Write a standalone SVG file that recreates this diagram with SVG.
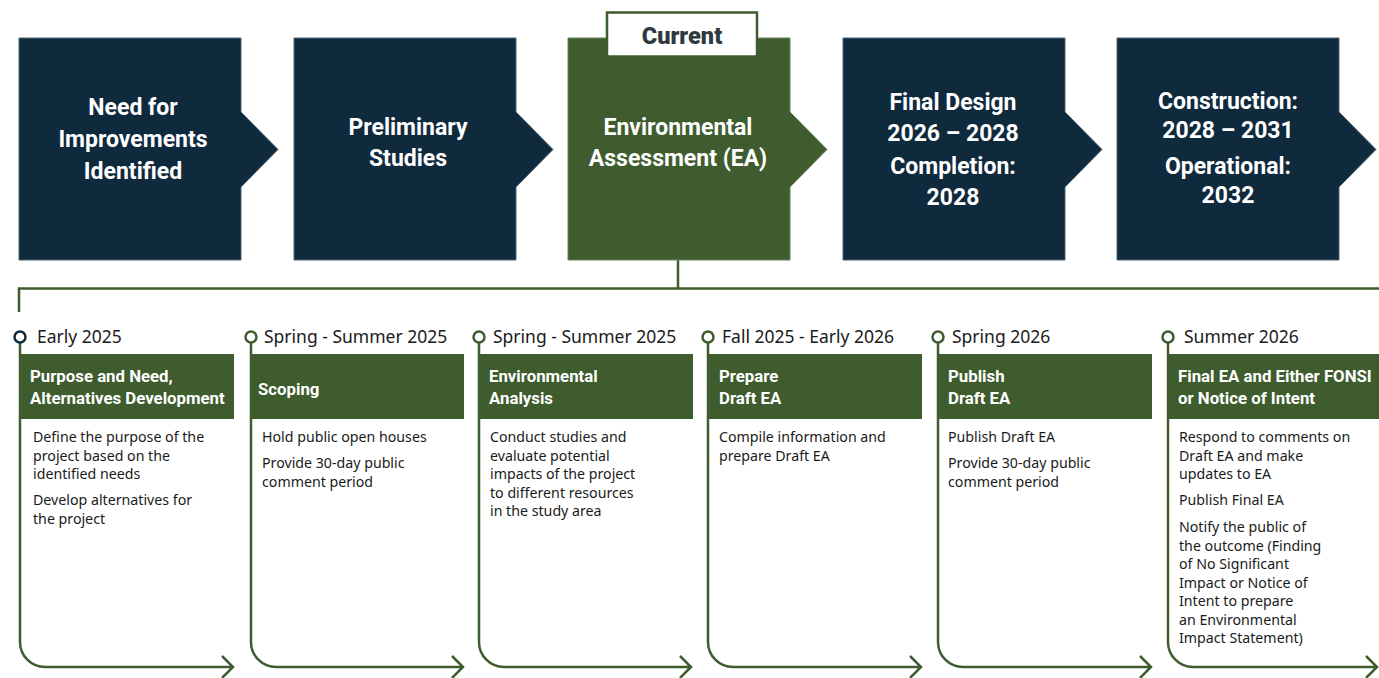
<svg xmlns="http://www.w3.org/2000/svg" width="1379" height="678" viewBox="0 0 1379 678">
<style>
.navy{fill:#0f293d;stroke:#4d6272;stroke-width:1}
.green{fill:#3e5c2d;stroke:#6b8560;stroke-width:1}
.bt{font-family:Roboto,"Liberation Sans",sans-serif;font-weight:700;font-size:23px;fill:#ffffff;text-anchor:middle}
.hd{font-family:Roboto,"Liberation Sans",sans-serif;font-weight:700;font-size:16.8px;fill:#ffffff}
.hbox{fill:#3e5c2d}
.dt{font-family:"Noto Sans","Liberation Sans",sans-serif;font-size:17.5px;fill:#1a1a1a}
.tx{font-family:"Noto Sans","Liberation Sans",sans-serif;font-size:14.2px;fill:#1a1a1a}
.ln{fill:none;stroke:#3e5c2d;stroke-width:2.5}
.dot{fill:#ffffff;stroke:#3e5c2d;stroke-width:2.5}
</style>
<rect width="1379" height="678" fill="#ffffff"/>

<g id="connectors">
  <path class="ln" d="M678,260 V288.5 M19,312 V288.5 H1379"/>
  <path class="ln" d="M20,342 V642 A25,25 0 0 0 45,667 H233 M222,656 L233,667 L222,678"/>
  <path class="ln" d="M251,342 V642 A25,25 0 0 0 276,667 H463 M452,656 L463,667 L452,678"/>
  <path class="ln" d="M479,342 V642 A25,25 0 0 0 504,667 H691 M680,656 L691,667 L680,678"/>
  <path class="ln" d="M708,342 V642 A25,25 0 0 0 733,667 H921 M910,656 L921,667 L910,678"/>
  <path class="ln" d="M938,342 V642 A25,25 0 0 0 963,667 H1151 M1140,656 L1151,667 L1140,678"/>
  <path class="ln" d="M1168,342 V642 A25,25 0 0 0 1193,667 H1377 M1366,656 L1377,667 L1366,678"/>
</g>

<g id="phase1">
  <path class="navy" d="M19,38 H241 V112 L278,149.5 L241,187 V260 H19 Z"/>
  <text class="bt" x="133" y="115">Need for</text>
  <text class="bt" x="133" y="147">Improvements</text>
  <text class="bt" x="133" y="179">Identified</text>
</g>
<g id="phase2">
  <path class="navy" d="M294,38 H516 V112 L553,149.5 L516,187 V260 H294 Z"/>
  <text class="bt" x="408" y="135">Preliminary</text>
  <text class="bt" x="408" y="166">Studies</text>
</g>
<g id="phase3">
  <path class="green" d="M568,38 H790 V112 L827,149.5 L790,187 V260 H568 Z"/>
  <text class="bt" x="678" y="135">Environmental</text>
  <text class="bt" x="678" y="166">Assessment (EA)</text>
</g>
<g id="current">
  <rect x="607" y="12.5" width="150" height="44" fill="#ffffff" stroke="#3e5c2d" stroke-width="2.5"/>
  <text x="682" y="44" font-family="Roboto,'Liberation Sans',sans-serif" font-weight="900" font-size="23.5" fill="#2e3a3f" text-anchor="middle">Current</text>
</g>
<g id="phase4">
  <path class="navy" d="M843,38 H1065 V112 L1102,149.5 L1065,187 V260 H843 Z"/>
  <text class="bt" x="953" y="110">Final Design</text>
  <text class="bt" x="953" y="141">2026 – 2028</text>
  <text class="bt" x="953" y="174">Completion:</text>
  <text class="bt" x="953" y="205">2028</text>
</g>
<g id="phase5">
  <path class="navy" d="M1117,38 H1339 V112 L1376,149.5 L1339,187 V260 H1117 Z"/>
  <text class="bt" x="1228" y="109">Construction:</text>
  <text class="bt" x="1228" y="138">2028 – 2031</text>
  <text class="bt" x="1228" y="174">Operational:</text>
  <text class="bt" x="1228" y="203">2032</text>
</g>

<g id="step1">
  <circle cx="20" cy="337" r="5.5" fill="#ffffff" stroke="#0f293d" stroke-width="2.5"/>
  <text class="dt" x="37" y="343">Early 2025</text>
  <rect class="hbox" x="21" y="354" width="213" height="65"/>
  <text class="hd" x="30" y="382">Purpose and Need,</text>
  <text class="hd" x="30" y="404">Alternatives Development</text>
  <text class="tx" x="33" y="442">Define the purpose of the</text>
  <text class="tx" x="33" y="460.5">project based on the</text>
  <text class="tx" x="33" y="479">identified needs</text>
  <text class="tx" x="33" y="505">Develop alternatives for</text>
  <text class="tx" x="33" y="524">the project</text>
</g>
<g id="step2">
  <circle class="dot" cx="251" cy="337" r="5.5"/>
  <text class="dt" x="264" y="343">Spring - Summer 2025</text>
  <rect class="hbox" x="252" y="354" width="212" height="65"/>
  <text class="hd" x="258" y="395">Scoping</text>
  <text class="tx" x="262" y="442">Hold public open houses</text>
  <text class="tx" x="262" y="468">Provide 30-day public</text>
  <text class="tx" x="262" y="486.5">comment period</text>
</g>
<g id="step3">
  <circle class="dot" cx="479" cy="337" r="5.5"/>
  <text class="dt" x="493" y="343">Spring - Summer 2025</text>
  <rect class="hbox" x="480" y="354" width="213" height="65"/>
  <text class="hd" x="489" y="382">Environmental</text>
  <text class="hd" x="489" y="404">Analysis</text>
  <text class="tx" x="490" y="442">Conduct studies and</text>
  <text class="tx" x="490" y="460.5">evaluate potential</text>
  <text class="tx" x="490" y="479">impacts of the project</text>
  <text class="tx" x="490" y="497.5">to different resources</text>
  <text class="tx" x="490" y="516">in the study area</text>
</g>
<g id="step4">
  <circle class="dot" cx="708" cy="337" r="5.5"/>
  <text class="dt" x="722" y="343">Fall 2025 - Early 2026</text>
  <rect class="hbox" x="709" y="354" width="213" height="65"/>
  <text class="hd" x="719" y="382">Prepare</text>
  <text class="hd" x="719" y="404">Draft EA</text>
  <text class="tx" x="719" y="442">Compile information and</text>
  <text class="tx" x="719" y="460.5">prepare Draft EA</text>
</g>
<g id="step5">
  <circle class="dot" cx="938" cy="337" r="5.5"/>
  <text class="dt" x="952" y="343">Spring 2026</text>
  <rect class="hbox" x="939" y="354" width="213" height="65"/>
  <text class="hd" x="948" y="382">Publish</text>
  <text class="hd" x="948" y="404">Draft EA</text>
  <text class="tx" x="948" y="442">Publish Draft EA</text>
  <text class="tx" x="948" y="468">Provide 30-day public</text>
  <text class="tx" x="948" y="486.5">comment period</text>
</g>
<g id="step6">
  <circle class="dot" cx="1168" cy="337" r="5.5"/>
  <text class="dt" x="1184" y="343">Summer 2026</text>
  <rect class="hbox" x="1169" y="354" width="210" height="65"/>
  <text class="hd" x="1178" y="382">Final EA and Either FONSI</text>
  <text class="hd" x="1178" y="404">or Notice of Intent</text>
  <text class="tx" x="1179" y="442">Respond to comments on</text>
  <text class="tx" x="1179" y="460.5">Draft EA and make</text>
  <text class="tx" x="1179" y="479">updates to EA</text>
  <text class="tx" x="1179" y="505">Publish Final EA</text>
  <text class="tx" x="1179" y="532">Notify the public of</text>
  <text class="tx" x="1179" y="550.5">the outcome (Finding</text>
  <text class="tx" x="1179" y="569">of No Significant</text>
  <text class="tx" x="1179" y="587.5">Impact or Notice of</text>
  <text class="tx" x="1179" y="606">Intent to prepare</text>
  <text class="tx" x="1179" y="624.5">an Environmental</text>
  <text class="tx" x="1179" y="643">Impact Statement)</text>
</g>
</svg>
